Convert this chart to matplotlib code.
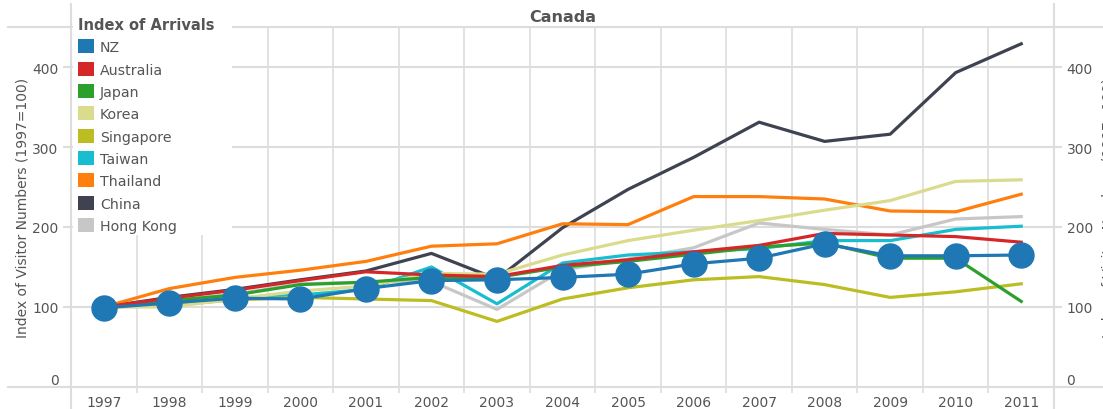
import matplotlib.pyplot as plt
from matplotlib.lines import Line2D
from matplotlib.patches import Patch, Rectangle

# ---------------- data (index, 1997 = 100) ----------------
years = list(range(1997, 2012))

nz        = [99, 105, 111, 110, 123, 133, 134, 137, 141, 154, 161, 179, 164, 164, 165]
australia = [100, 111, 121, 133, 144, 140, 138, 152, 159, 169, 177, 192, 190, 188, 181]
japan     = [100, 108, 115, 128, 131, 137, 137, 150, 157, 166, 175, 180, 161, 161, 107]
korea     = [100, 100, 110, 120, 126, 142, 141, 165, 183, 196, 208, 221, 233, 257, 259]
singapore = [100, 102, 109, 112, 110, 108, 82, 110, 124, 134, 138, 128, 112, 119, 129]
taiwan    = [100, 104, 111, 115, 122, 150, 104, 155, 165, 169, 173, 183, 183, 197, 201]
thailand  = [100, 123, 137, 146, 157, 176, 179, 204, 203, 238, 238, 235, 220, 219, 241]
china     = [100, 112, 122, 134, 145, 167, 135, 199, 247, 287, 331, 307, 316, 393, 429]
hongkong  = [100, 108, 116, 129, 131, 132, 97, 146, 160, 174, 205, 197, 190, 210, 213]

names  = ["NZ", "Australia", "Japan", "Korea", "Singapore",
          "Taiwan", "Thailand", "China", "Hong Kong"]
series = [nz, australia, japan, korea, singapore, taiwan, thailand, china, hongkong]
colors = ["#1f77b4", "#d62728", "#2ca02c", "#dbdb8d", "#bcbd22",
          "#17becf", "#ff7f0e", "#3f4250", "#c7c7c7"]

ytick_vals = [0, 100, 200, 300, 400]

# ---------------- figure ----------------
W, H = 1103, 410
fig = plt.figure(figsize=(W / 100, H / 100), dpi=100)
px = lambda x: x / W
py = lambda y: 1 - y / H

ax = fig.add_axes([px(71), py(388), px(1054) - px(71), py(28) - py(388)])
ax.set_xlim(1996.5, 2011.5)
ax.set_ylim(0, 450)

txt = "#555555"
grid = "#dddddd"

for s in ax.spines.values():
    s.set_visible(False)

# gridlines
for v in ytick_vals[1:]:
    ax.axhline(v, color=grid, lw=1.5, zorder=0)
for x in range(1997, 2012):
    ax.axvline(x + 0.5, color=grid, lw=1.2, zorder=0)

# frame lines extending past the plot area
fl = dict(color=grid, lw=1.5, transform=fig.transFigure, clip_on=False, zorder=0.5)
ax.add_line(Line2D([px(8), 1], [py(28), py(28)], **fl))
ax.add_line(Line2D([px(8), 1], [py(388), py(388)], **fl))
ax.add_line(Line2D([px(71), px(71)], [py(5), 0], **fl))
ax.add_line(Line2D([px(1054), px(1054)], [py(5), 0], **fl))

# white box behind the legend, hides the gridlines there
ax.add_patch(Rectangle((px(73), py(236)), px(232) - px(73), py(8) - py(236),
                       transform=fig.transFigure, facecolor="white",
                       edgecolor="none", zorder=1, clip_on=False))

# series (NZ drawn last, with markers)
for name, vals, c in list(zip(names, series, colors))[::-1]:
    if name == "NZ":
        ax.plot(years, vals, color=c, lw=2.3, marker="o", ms=18, zorder=5)
    else:
        ax.plot(years, vals, color=c, lw=2.3, zorder=3)

# ticks
ax.set_xticks(years)
ax.set_xticklabels([str(y) for y in years])
ax.set_xticks([y + 0.5 for y in years[:-1]], minor=True)
ax.tick_params(axis="x", which="major", length=0, pad=6, labelsize=10, labelcolor=txt)
ax.tick_params(axis="x", which="minor", length=4, color=grid, width=1.2)
ax.set_yticks(ytick_vals)
ax.tick_params(axis="y", which="major", left=True, right=True, labelleft=True,
               labelright=True, length=6, color=grid, width=1.5,
               labelsize=10, labelcolor=txt, pad=3)
t0 = ax.yaxis.get_major_ticks()[0]
t0.label1.set_verticalalignment("bottom")
t0.label2.set_verticalalignment("bottom")

ax.set_title("Canada", fontsize=11.5, fontweight="bold", color=txt, pad=4)

# axis labels (the right one runs off the edge, as in the original)
ylab = "Index of Visitor Numbers (1997=100)"
fig.text(px(23), py(208), ylab, rotation=90, ha="center", va="center",
         fontsize=10, color=txt)
fig.text(px(1108), py(208), ylab, rotation=90, ha="center", va="center",
         fontsize=10, color=txt)

# legend
handles = [Patch(facecolor=c, edgecolor="none") for c in colors]
leg = ax.legend(handles, names, title="Index of Arrivals", loc="upper left",
                bbox_to_anchor=(px(75), py(15)), bbox_transform=fig.transFigure,
                frameon=False, fontsize=10.2,
                title_fontproperties={"weight": "bold", "size": 10.5},
                alignment="left", handlelength=1.15, handleheight=1.15,
                handletextpad=0.4, labelspacing=0.53, borderpad=0.2,
                borderaxespad=0)
leg.get_title().set_color(txt)
for t in leg.get_texts():
    t.set_color(txt)
leg.set_zorder(10)

fig.savefig("out.png", dpi=100)
